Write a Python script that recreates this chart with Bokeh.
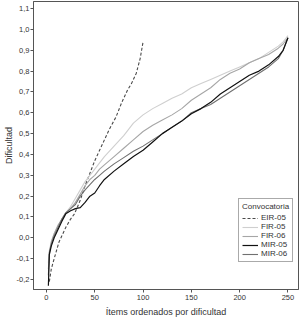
from bokeh.plotting import figure
from bokeh.models import Range1d, FixedTicker, CustomJSTickFormatter, Legend, LegendItem
from bokeh.embed import file_html
from bokeh.resources import INLINE

# ---- data ----
x_eir = [3, 5, 8, 13, 20, 25, 29, 35, 40, 45, 50, 55, 60, 65, 72, 78, 84, 88, 93, 97, 100]
y_eir = [-0.21, -0.15, -0.10, -0.02, 0.05, 0.09, 0.115, 0.18, 0.25, 0.31, 0.37, 0.42, 0.47,
         0.52, 0.58, 0.65, 0.71, 0.74, 0.79, 0.86, 0.94]

x_all = [2, 3, 5, 8, 12, 16, 20, 25, 30, 35, 40, 45, 50, 55, 60, 70, 80, 90, 100, 110, 120, 130,
         140, 150, 160, 170, 180, 190, 200, 210, 220, 230, 240, 245, 250]

y_fir05 = [-0.12, -0.06, -0.02, 0.02, 0.06, 0.09, 0.12, 0.15, 0.19, 0.23, 0.27, 0.30, 0.33, 0.36,
           0.39, 0.44, 0.49, 0.55, 0.59, 0.62, 0.645, 0.67, 0.69, 0.72, 0.74, 0.76, 0.78, 0.80,
           0.82, 0.84, 0.86, 0.89, 0.92, 0.94, 0.97]
y_fir06 = [-0.15, -0.08, -0.02, 0.02, 0.06, 0.09, 0.12, 0.14, 0.17, 0.21, 0.25, 0.28, 0.30, 0.33,
           0.35, 0.39, 0.43, 0.47, 0.51, 0.54, 0.565, 0.59, 0.62, 0.66, 0.69, 0.72, 0.76, 0.79,
           0.81, 0.84, 0.86, 0.88, 0.91, 0.93, 0.96]
y_mir05 = [-0.23, -0.08, -0.04, 0.00, 0.04, 0.08, 0.115, 0.13, 0.14, 0.145, 0.17, 0.20, 0.215, 0.25,
           0.28, 0.32, 0.355, 0.39, 0.42, 0.46, 0.50, 0.53, 0.56, 0.595, 0.62, 0.65, 0.69, 0.72,
           0.75, 0.78, 0.80, 0.83, 0.87, 0.90, 0.96]
y_mir06 = [-0.18, -0.07, -0.03, 0.01, 0.05, 0.09, 0.12, 0.14, 0.16, 0.20, 0.23, 0.255, 0.28, 0.30,
           0.32, 0.355, 0.385, 0.415, 0.44, 0.47, 0.50, 0.53, 0.56, 0.60, 0.62, 0.64, 0.67, 0.70,
           0.73, 0.76, 0.79, 0.82, 0.86, 0.90, 0.96]

x_ticks = [0, 50, 100, 150, 200, 250]
y_ticks = [-0.2, -0.1, 0.0, 0.1, 0.2, 0.3, 0.4, 0.5, 0.6, 0.7, 0.8, 0.9, 1.0, 1.1]

FONT = "Liberation Sans"

p = figure(width=300, height=322, output_backend="svg", toolbar_location=None,
           x_range=Range1d(-13.4, 260.9), y_range=Range1d(-0.248, 1.134),
           min_border_left=32, min_border_right=2, min_border_top=1, min_border_bottom=33)
p.background_fill_color = "white"
p.border_fill_color = "white"
p.outline_line_color = "#555555"
p.outline_line_width = 1
p.grid.visible = False

r_eir = p.line(x_eir, y_eir, line_color="#4a4a4a", line_width=1.1, line_dash="3 2")
r_fir05 = p.line(x_all, y_fir05, line_color="#cfcfcf", line_width=1.1)
r_fir06 = p.line(x_all, y_fir06, line_color="#a6a6a6", line_width=1.1)
r_mir06 = p.line(x_all, y_mir06, line_color="#707070", line_width=1.1)
r_mir05 = p.line(x_all, y_mir05, line_color="#111111", line_width=1.2)

for ax in (p.xaxis[0], p.yaxis[0]):
    ax.axis_line_color = "#555555"
    ax.major_tick_line_color = "#555555"
    ax.minor_tick_line_color = None
    ax.major_tick_in = 0
    ax.major_tick_out = 3
    ax.major_label_text_font = FONT
    ax.major_label_text_font_size = "7.5px"
    ax.major_label_text_color = "#333333"
    ax.axis_label_text_font = FONT
    ax.axis_label_text_font_style = "normal"
    ax.axis_label_text_font_size = "9px"
    ax.axis_label_text_color = "#333333"
    ax.major_label_standoff = 1

p.xaxis.ticker = FixedTicker(ticks=x_ticks)
p.yaxis.ticker = FixedTicker(ticks=y_ticks)
p.yaxis.formatter = CustomJSTickFormatter(code="return tick.toFixed(1).replace('.', ',');")
p.xaxis.axis_label = "Ítems ordenados por dificultad"
p.yaxis.axis_label = "Dificultad"
p.xaxis.axis_label_standoff = 4
p.xaxis.major_label_standoff = 2
p.yaxis.axis_label_standoff = 0

legend = Legend(items=[
    LegendItem(label="EIR-05", renderers=[r_eir]),
    LegendItem(label="FIR-05", renderers=[r_fir05]),
    LegendItem(label="FIR-06", renderers=[r_fir06]),
    LegendItem(label="MIR-05", renderers=[r_mir05]),
    LegendItem(label="MIR-06", renderers=[r_mir06]),
], location=(205, 27))
legend.title = "Convocatoria"
legend.title_text_font = FONT
legend.title_text_font_size = "8px"
legend.title_text_font_style = "normal"
legend.title_text_color = "#333333"
legend.title_standoff = 2
legend.label_text_font = FONT
legend.label_text_font_size = "8px"
legend.label_text_color = "#333333"
legend.label_height = 8
legend.label_standoff = 3
legend.glyph_height = 8
legend.glyph_width = 16
legend.spacing = 0
legend.padding = 3
legend.margin = 0
legend.border_line_color = "#555555"
legend.border_line_width = 1
legend.background_fill_color = "white"
legend.background_fill_alpha = 1
p.add_layout(legend, "center")

open("out.html", "w").write(file_html(p, INLINE))
